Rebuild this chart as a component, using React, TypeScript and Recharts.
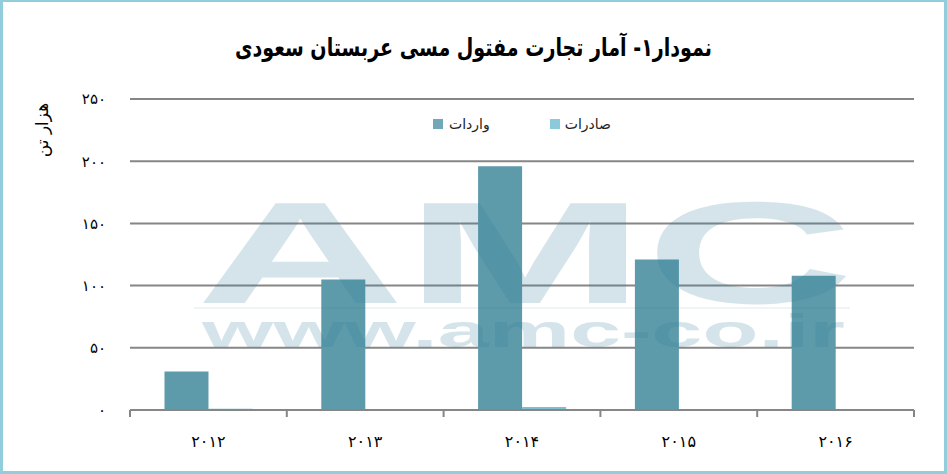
import React from 'react';
import { BarChart, Bar, XAxis, YAxis, CartesianGrid, Legend } from 'recharts';

const years = ['2012', '2013', '2014', '2015', '2016'];
const importsTons = [31, 105, 196, 121, 108];
const exportsTons = [1, 0, 2.5, 0, 0];
const yTicks = [0, 50, 100, 150, 200, 250];

const TITLE = 'نمودار۱- آمار تجارت مفتول مسی عربستان سعودی';
const Y_LABEL = 'هزار تن';
const IMPORT_NAME = 'واردات';
const EXPORT_NAME = 'صادرات';

const IMPORT_COLOR = '#5D9AAA';
const EXPORT_COLOR = '#7DBFD0';
const GRID_COLOR = '#868686';
const FONT = '"DejaVu Sans", sans-serif';

const data = years.map((y, i) => ({ year: y, imports: importsTons[i], exports: exportsTons[i] }));

const fa = (v: string | number) => String(v).replace(/\d/g, (d) => '۰۱۲۳۴۵۶۷۸۹'[Number(d)]);

const XTick = (props: any) => {
  const { x, y, payload, index, visibleTicksCount, width } = props;
  const half = payload && payload.offset ? payload.offset : (width || 784) / (visibleTicksCount || 5) / 2;
  const last = index === (visibleTicksCount || 5) - 1;
  return (
    <g>
      <line x1={x - half} x2={x - half} y1={y} y2={y + 7} stroke={GRID_COLOR} strokeWidth={2} />
      {last && <line x1={x + half} x2={x + half} y1={y} y2={y + 7} stroke={GRID_COLOR} strokeWidth={2} />}
      <text x={x} y={y + 32} textAnchor="middle" dominantBaseline="middle" fontFamily={FONT} fontSize={16} fill="#000">
        {fa(payload.value)}
      </text>
    </g>
  );
};

const LegendContent = () => (
  <div style={{ display: 'flex', justifyContent: 'center', alignItems: 'center', fontFamily: FONT, fontSize: 14, color: '#222' }}>
    <span style={{ display: 'inline-block', width: 10, height: 10, background: '#72A7B8', marginRight: 6 }} />
    <span style={{ marginRight: 60 }}>{IMPORT_NAME}</span>
    <span style={{ display: 'inline-block', width: 10, height: 10, background: '#8CC9DB', marginRight: 5 }} />
    <span>{EXPORT_NAME}</span>
  </div>
);

export default function App() {
  return (
    <div
      style={{
        position: 'absolute',
        top: 0,
        left: 0,
        width: 947,
        height: 474,
        background: '#fff',
        overflow: 'hidden',
      }}
    >
      <BarChart
        width={947}
        height={474}
        data={data}
        margin={{ top: 99, right: 33, left: 0, bottom: 24 }}
        barCategoryGap="22%"
        barGap={0}
      >
        <CartesianGrid vertical={false} stroke={GRID_COLOR} strokeWidth={2} />
        <XAxis
          dataKey="year"
          height={40}
          axisLine={{ stroke: GRID_COLOR, strokeWidth: 2 }}
          tickLine={false}
          tickSize={0}
          tickMargin={0}
          tick={<XTick />}
          interval={0}
        />
        <YAxis
          width={130}
          domain={[0, 250]}
          ticks={yTicks}
          axisLine={false}
          tickLine={false}
          tickSize={0}
          tickMargin={24}
          tickFormatter={(v: number) => fa(v)}
          tick={{ fontFamily: FONT, fontSize: 15, fill: '#000' }}
          interval={0}
        />
        <Legend
          layout="horizontal"
          verticalAlign="middle"
          align="center"
          wrapperStyle={{ top: 116, left: 0, width: 1044 }}
          content={<LegendContent />}
        />
        <Bar dataKey="imports" name={IMPORT_NAME} fill={IMPORT_COLOR} isAnimationActive={false} />
        <Bar dataKey="exports" name={EXPORT_NAME} fill={EXPORT_COLOR} isAnimationActive={false} />
      </BarChart>
      <svg
        width={947}
        height={474}
        style={{ position: 'absolute', top: 0, left: 0, pointerEvents: 'none' }}
      >
        <g fill="#2E7D98" opacity={0.2} fontFamily='"Liberation Sans", Arial, sans-serif' fontWeight="bold">
          <text x={196} y={303} fontSize={145} textLength={658} lengthAdjust="spacingAndGlyphs">
            AMC
          </text>
          <text x={202} y={347} fontSize={47} textLength={643} lengthAdjust="spacingAndGlyphs">
            www.amc-co.ir
          </text>
        </g>
        <rect x={194} y={307} width={656} height={2} fill="#2E7D98" opacity={0.08} />
        <text
          x={235}
          y={49}
          dominantBaseline="middle"
          fontFamily={FONT}
          fontWeight="bold"
          fontSize={25}
          fill="#000"
          textLength={477}
          lengthAdjust="spacingAndGlyphs"
        >
          {TITLE}
        </text>
        <text
          x={0}
          y={0}
          transform="translate(43,130) rotate(-90)"
          textAnchor="middle"
          dominantBaseline="middle"
          fontFamily={FONT}
          fontSize={17}
          fill="#000"
        >
          {Y_LABEL}
        </text>
      </svg>
      <div
        style={{
          position: 'absolute',
          top: 0,
          left: 0,
          width: 947,
          height: 474,
          boxSizing: 'border-box',
          border: '3px solid #92CDDC',
          borderTopWidth: 2,
          pointerEvents: 'none',
        }}
      />
    </div>
  );
}
